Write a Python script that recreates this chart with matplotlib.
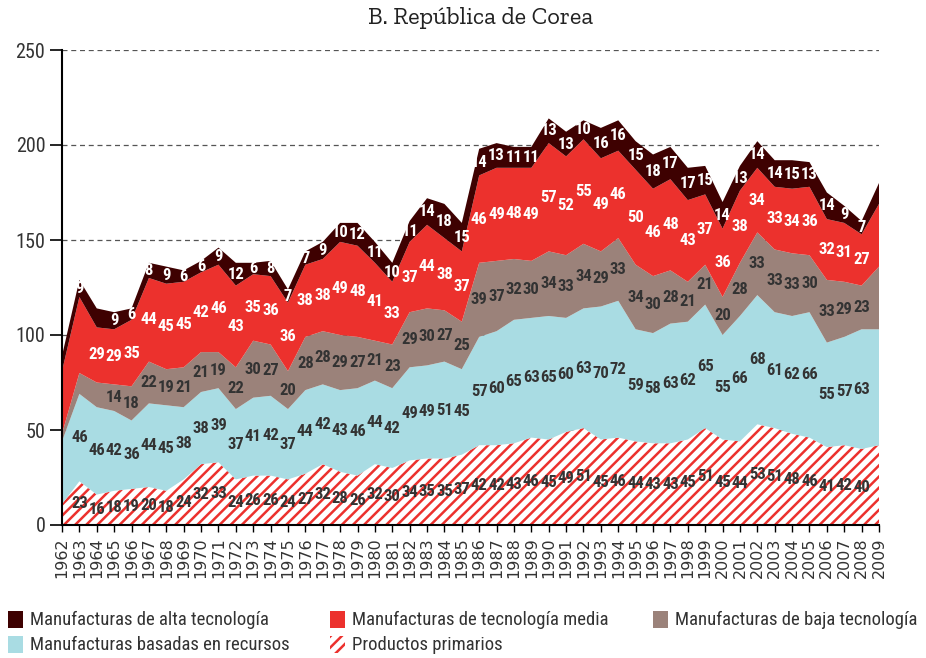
import matplotlib
matplotlib.use("Agg")
import matplotlib.pyplot as plt
from matplotlib.patches import Rectangle
import numpy as np

years = list(range(1962, 2010))

primarios = [11,
             23, 16, 18, 19, 20, 18, 24, 32, 33, 24,
             26, 26, 24, 27, 32, 28, 26, 32, 30, 34,
             35, 35, 37, 42, 42, 43, 46, 45, 49, 51,
             45, 46, 44, 43, 43, 45, 51, 45, 44, 53,
             51, 48, 46, 41, 42, 40,
             42]
recursos = [33,
            46, 46, 42, 36, 44, 45, 38, 38, 39, 37,
            41, 42, 37, 44, 42, 43, 46, 44, 42, 49,
            49, 51, 45, 57, 60, 65, 63, 65, 60, 63,
            70, 72, 59, 58, 63, 62, 65, 55, 66, 68,
            61, 62, 66, 55, 57, 63,
            61]
baja = [4,
        11, 13, 14, 18, 22, 19, 21, 21, 19, 22,
        30, 27, 20, 28, 28, 29, 27, 21, 23, 29,
        30, 27, 25, 39, 37, 32, 30, 34, 33, 34,
        29, 33, 34, 30, 28, 21, 21, 20, 28, 33,
        33, 33, 30, 33, 29, 23,
        33]
media = [33,
         40, 29, 29, 35, 44, 45, 45, 42, 46, 43,
         35, 36, 36, 38, 38, 49, 48, 41, 33, 37,
         44, 38, 37, 46, 49, 48, 49, 57, 52, 55,
         49, 46, 50, 46, 48, 43, 37, 36, 38, 34,
         33, 34, 36, 32, 31, 27,
         33]
alta = [8,
        9, 10, 9, 6, 8, 9, 6, 6, 9, 12,
        6, 8, 7, 7, 9, 10, 12, 11, 10, 11,
        14, 18, 15, 14, 13, 11, 11, 13, 13, 10,
        16, 16, 15, 18, 17, 17, 15, 14, 13, 14,
        14, 15, 13, 14, 9, 7,
        11]

series_names = ["Productos primarios", "Manufacturas basadas en recursos",
                "Manufacturas de baja tecnología", "Manufacturas de tecnología media",
                "Manufacturas de alta tecnología"]
title = "B. República de Corea"
yticks = [0, 50, 100, 150, 200, 250]

# labels not printed in the reference (series index, year)
unlabeled = {(2, 1963), (3, 1963), (2, 1964), (4, 1964)}
unlabeled_years = {1962, 2009}

RED = "#ec312d"
colors = ["white", "#a9dce3", "#9b827a", RED, "#3e0101"]
label_colors = ["#333333", "#333333", "#333333", "white", "white"]

NARROW = ["Roboto Condensed", "PT Sans Narrow", "DejaVu Sans"]
SLAB = ["Zilla Slab", "Bitter", "DejaVu Serif"]
plt.rcParams["hatch.linewidth"] = 1.8

fig = plt.figure(figsize=(9.26, 6.58), dpi=100)
ax = fig.add_axes([62/926, 1-525/658, (879-62)/926, (525-50)/658])

data = [primarios, recursos, baja, media, alta]
x = np.array(years)
bottom = np.zeros(len(years))
for i, vals in enumerate(data):
    v = np.array(vals, dtype=float)
    if i == 0:
        ax.fill_between(x, bottom, bottom + v, facecolor="white", edgecolor=RED,
                        hatch="///", linewidth=0, zorder=2)
    else:
        ax.fill_between(x, bottom, bottom + v, facecolor=colors[i], edgecolor="none",
                        linewidth=0, zorder=2)
    for j, yr in enumerate(years):
        if yr in unlabeled_years or (i, yr) in unlabeled:
            continue
        ax.text(yr, bottom[j] + v[j]/2, str(vals[j]), ha="center", va="center",
                color=label_colors[i], fontsize=12, fontweight="bold",
                family=NARROW, zorder=5)
    bottom = bottom + v

ax.set_xlim(1962, 2009)
ax.set_ylim(0, 250)
ax.set_yticks(yticks)
ax.set_xticks(years)
ax.set_xticklabels([str(y) for y in years], rotation=90, fontsize=11.5,
                   family=["DejaVu Sans"], color="#333333")
for lab in ax.get_yticklabels():
    lab.set_family(NARROW)
    lab.set_fontsize(14.5)
    lab.set_color("#333333")
ax.tick_params(axis="y", length=9, width=1.2, pad=3)
ax.tick_params(axis="x", length=5, width=1, pad=4)
for s in ["top", "right"]:
    ax.spines[s].set_visible(False)
for s in ["left", "bottom"]:
    ax.spines[s].set_linewidth(1.5)
    ax.spines[s].set_zorder(6)
ax.set_axisbelow(True)
ax.yaxis.grid(True, linestyle=(0, (4, 3)), color="#555555", linewidth=0.9)

fig.text(481/926, 1-18/658, title, ha="center", va="center", fontsize=17.5,
         family=SLAB, fontweight="normal", color="#222222")

# legend
entries = [(4, 8, 620), (3, 330, 620), (2, 653, 620), (1, 8, 645), (0, 330, 645)]
for idx, lx, ly in entries:
    if idx == 0:
        r = Rectangle((lx/926, 1-(ly+8)/658), 15/926, 17/658, transform=fig.transFigure,
                      facecolor="white", edgecolor=RED, hatch="///", linewidth=0)
    else:
        r = Rectangle((lx/926, 1-(ly+8)/658), 15/926, 17/658, transform=fig.transFigure,
                      facecolor=colors[idx], edgecolor="none", linewidth=0)
    fig.patches.append(r)
    fig.text((lx+22)/926, 1-ly/658, series_names[idx], ha="left", va="center",
             fontsize=13.5, family=NARROW, color="#333333")

fig.savefig("out.png", dpi=100)
